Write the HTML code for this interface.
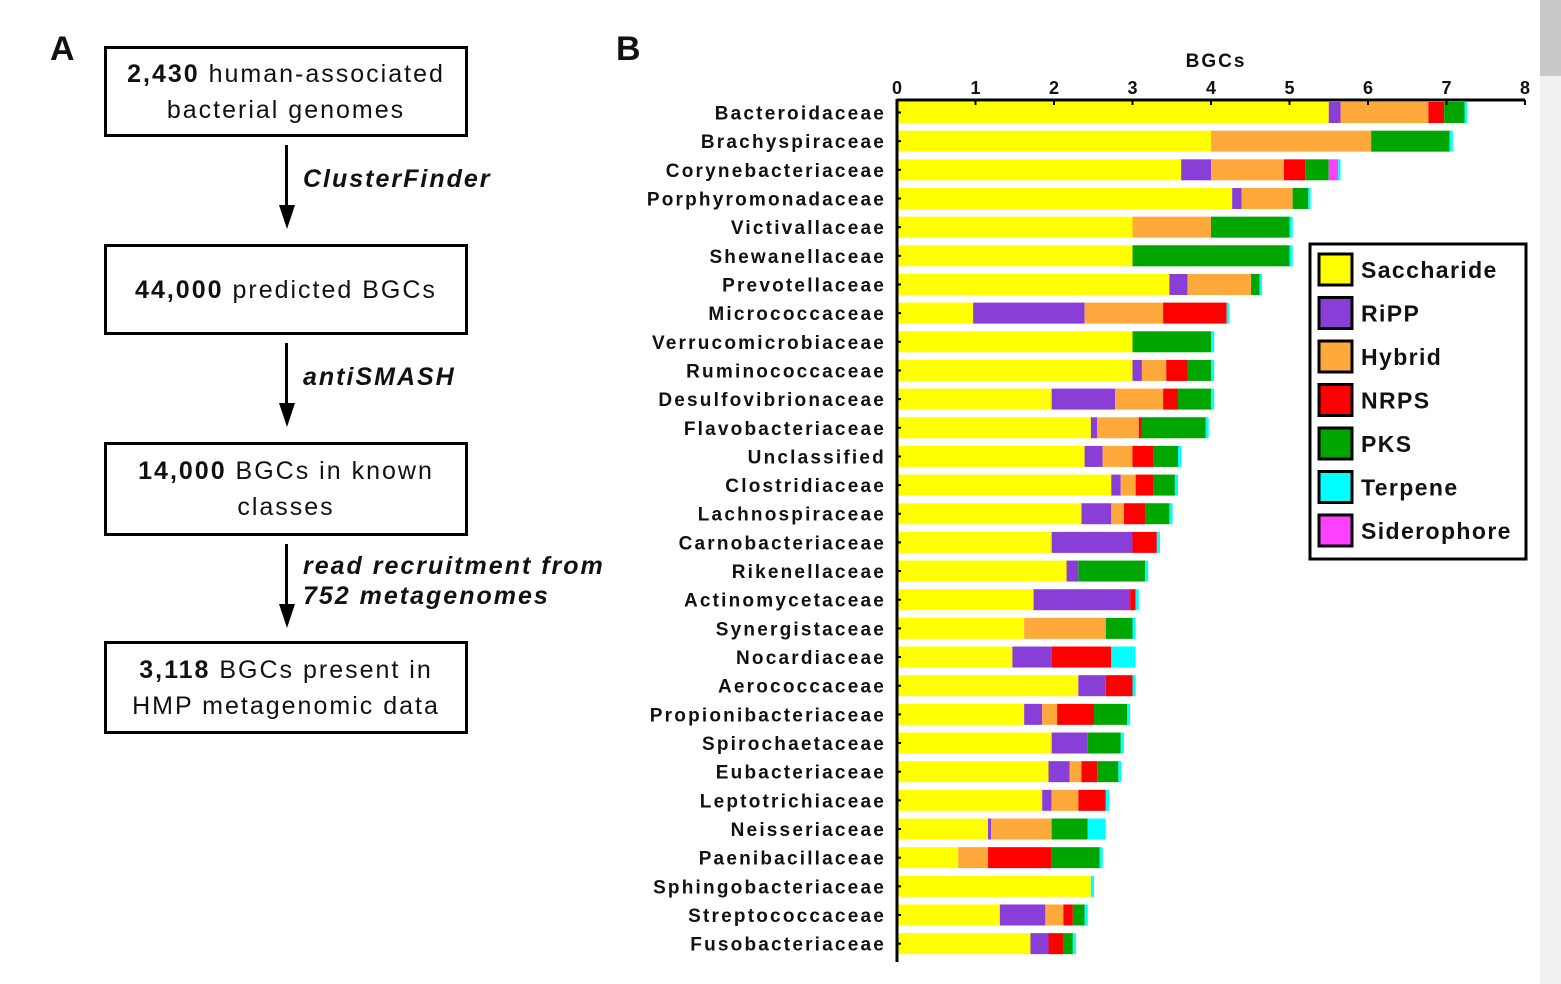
<!DOCTYPE html>
<html><head><meta charset="utf-8"><style>
body{margin:0;width:1561px;height:984px;background:#fff;overflow:hidden;position:relative;font-family:"Liberation Sans",Arial,sans-serif;color:#111}
.box{position:absolute;left:104px;width:358px;border:3px solid #000;text-align:center;font-size:25px;line-height:36px;display:flex;align-items:center;justify-content:center;flex-direction:column;letter-spacing:2px}
.lbl{position:absolute;font-size:25px;font-style:italic;font-weight:bold;line-height:30px;letter-spacing:2px}
.arrow{position:absolute;left:285px;width:3px;background:#000}
.head{position:absolute;left:279px;width:0;height:0;border-left:8px solid transparent;border-right:8px solid transparent;border-top:24px solid #000}
</style></head><body>
<div style="position:absolute;left:50px;top:30px;font-size:34px;font-weight:bold">A</div>
<div style="position:absolute;left:616px;top:30px;font-size:34px;font-weight:bold">B</div>
<div class="box" style="top:46px;height:85px"><div><b>2,430</b> human-associated</div><div>bacterial genomes</div></div>
<div class="arrow" style="top:145px;height:64px"></div><div class="head" style="top:205px"></div>
<div class="lbl" style="left:303px;top:164px">ClusterFinder</div>
<div class="box" style="top:244px;height:85px"><div><b>44,000</b> predicted BGCs</div></div>
<div class="arrow" style="top:343px;height:64px"></div><div class="head" style="top:403px"></div>
<div class="lbl" style="left:303px;top:362px">antiSMASH</div>
<div class="box" style="top:442px;height:88px"><div><b>14,000</b> BGCs in known</div><div>classes</div></div>
<div class="arrow" style="top:544px;height:64px"></div><div class="head" style="top:604px"></div>
<div class="lbl" style="left:303px;top:551px">read recruitment from<br>752 metagenomes</div>
<div class="box" style="top:641px;height:87px"><div><b>3,118</b> BGCs present in</div><div>HMP metagenomic data</div></div>
<div style="position:absolute;left:1540px;top:0;width:21px;height:984px;background:#f1f1f1"><div style="width:21px;height:76px;background:#c8c8c8"></div></div>

<svg id="chart" width="1561" height="984" style="position:absolute;left:0;top:0" font-family="Liberation Sans, Arial, sans-serif"></svg>
<script>
const categories=["Bacteroidaceae","Brachyspiraceae","Corynebacteriaceae","Porphyromonadaceae","Victivallaceae","Shewanellaceae","Prevotellaceae","Micrococcaceae","Verrucomicrobiaceae","Ruminococcaceae","Desulfovibrionaceae","Flavobacteriaceae","Unclassified","Clostridiaceae","Lachnospiraceae","Carnobacteriaceae","Rikenellaceae","Actinomycetaceae","Synergistaceae","Nocardiaceae","Aerococcaceae","Propionibacteriaceae","Spirochaetaceae","Eubacteriaceae","Leptotrichiaceae","Neisseriaceae","Paenibacillaceae","Sphingobacteriaceae","Streptococcaceae","Fusobacteriaceae"];
const saccharide=[5.50,4.0,3.62,4.27,3.0,3.0,3.47,0.97,3.0,3.0,1.97,2.47,2.39,2.73,2.35,1.97,2.16,1.74,1.62,1.47,2.31,1.62,1.97,1.93,1.85,1.16,0.78,2.47,1.31,1.70];
const ripp=[0.15,0,0.38,0.12,0,0,0.23,1.42,0,0.12,0.81,0.08,0.23,0.12,0.38,1.03,0.15,1.23,0,0.50,0.35,0.23,0.46,0.27,0.12,0.04,0,0,0.58,0.23];
const hybrid=[1.12,2.04,0.93,0.65,1.0,0,0.81,1.0,0,0.31,0.61,0.53,0.38,0.19,0.16,0,0,0,1.04,0,0,0.19,0,0.15,0.34,0.77,0.38,0,0.23,0];
const nrps=[0.20,0,0.27,0,0,0,0,0.81,0,0.27,0.19,0.04,0.27,0.23,0.27,0.31,0,0.07,0,0.76,0.34,0.47,0,0.20,0.35,0,0.81,0,0.12,0.19];
const pks=[0.26,1.0,0.30,0.20,1.0,2.0,0.11,0,1.0,0.30,0.42,0.81,0.31,0.27,0.31,0,0.85,0,0.34,0,0,0.42,0.42,0.27,0,0.46,0.61,0,0.15,0.12];
const siderophore=[0,0,0.12,0,0,0,0,0,0,0,0,0,0,0,0,0,0,0,0,0,0,0,0,0,0,0,0,0,0,0];
const terpene=[0.03,0.04,0.03,0.03,0.04,0.04,0.03,0.03,0.04,0.04,0.04,0.04,0.04,0.04,0.04,0.04,0.04,0.04,0.04,0.31,0.04,0.04,0.04,0.04,0.04,0.23,0.04,0.04,0.04,0.04];
const tickValues=[0,1,2,3,4,5,6,7,8];
const seriesNames=["Saccharide","RiPP","Hybrid","NRPS","PKS","Terpene","Siderophore"];

const colors={Saccharide:"#ffff00",RiPP:"#8a3ed8",Hybrid:"#ffa83c",NRPS:"#ff0000",PKS:"#00a600",Terpene:"#00ffff",Siderophore:"#ff40ff"};
const svg=document.getElementById('chart');
const NS="http://www.w3.org/2000/svg";
const X0=897,UNIT=78.5,Y0=102,PITCH=28.66,BH=21,AXY=100;
const x=v=>X0+v*UNIT, y=i=>Y0+i*PITCH;
function mk(t,a){const e=document.createElementNS(NS,t);for(const k in a)e.setAttribute(k,a[k]);svg.appendChild(e);return e;}
const stack=[["Saccharide",saccharide],["RiPP",ripp],["Hybrid",hybrid],["NRPS",nrps],["PKS",pks],["Siderophore",siderophore],["Terpene",terpene]];
categories.forEach((c,i)=>{
  let acc=0;
  stack.forEach(([n,arr])=>{
    const v=arr[i]; if(v<=0) return;
    const r=mk('rect',{x:x(acc),y:y(i),width:v*UNIT,height:BH,fill:colors[n]});
    
    
    acc+=v;
  });
  const t=mk('text',{x:886,y:y(i)+BH/2+7,'text-anchor':'end','font-size':19,'font-weight':'bold',fill:'#111','letter-spacing':2.2});
  t.textContent=c;
  
  
  const tk=mk('line',{x1:X0,x2:X0+4,y1:y(i)+BH/2,y2:y(i)+BH/2,stroke:'#000','stroke-width':2});
  
  
});
const ax=mk('line',{x1:X0,x2:x(8),y1:AXY,y2:AXY,stroke:'#000','stroke-width':3});


const ay=mk('line',{x1:X0,x2:X0,y1:AXY-1,y2:962,stroke:'#000','stroke-width':3});


tickValues.forEach(v=>{
  const l=mk('line',{x1:x(v),x2:x(v),y1:AXY,y2:AXY+5,stroke:'#000','stroke-width':2});
  
  
  const t=mk('text',{x:x(v),y:94,'text-anchor':'middle','font-size':18,'font-weight':'bold',fill:'#111'});
  t.textContent=v;
  
  
});
const at=mk('text',{x:1216,y:67,'text-anchor':'middle','font-size':19,'font-weight':'bold',fill:'#111','letter-spacing':2});
at.textContent='BGCs';


const lg=mk('rect',{x:1310,y:244,width:216,height:315,fill:'#fff',stroke:'#000','stroke-width':3});


seriesNames.forEach((n,i)=>{
  const yy=254+i*43.5;
  const s=mk('rect',{x:1319,y:yy,width:33,height:31,fill:colors[n],stroke:'#000','stroke-width':3});
  
  
  const t=mk('text',{x:1361,y:yy+24,'font-size':23,'font-weight':'bold',fill:'#111','letter-spacing':1.4});
  t.textContent=n;
  
  
});
</script>
</body></html>
